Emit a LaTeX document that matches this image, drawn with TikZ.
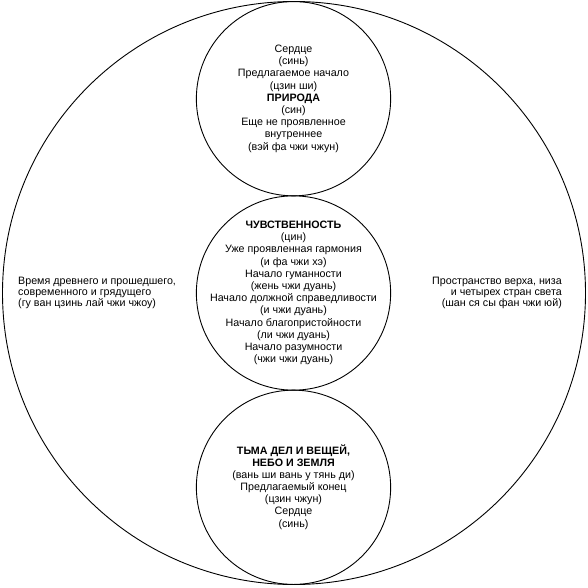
\documentclass[tikz,border=0pt]{standalone}
\usepackage{fontspec}
\setmainfont{Liberation Sans}
\usepackage{tikz}

\begin{document}
\begin{tikzpicture}[x=1pt,y=-1pt,
  ring/.style={circle,draw,line width=0.9pt,inner sep=0pt,minimum size=#1},
  txt/.style={align=center,inner sep=0pt,font=\fontsize{10.7}{12.2}\selectfont}]
\useasboundingbox (0,0) rectangle (587,588);
\node [ring=583pt] (world) at (294,293) {};
\node [ring=194.3pt] (nature) at (293.5,98.7) {};
\node [ring=194.3pt] (feeling) at (293.5,293) {};
\node [ring=194.3pt] (things) at (293.5,487.3) {};

\node [txt] (natureT) at (nature) {Сердце\\(синь)\\Предлагаемое начало\\(цзин ши)\\\textbf{ПРИРОДА}\\(син)\\Еще не проявленное\\внутреннее\\(вэй фа чжи чжун)};
\node [txt] (feelingT) at (feeling) {\textbf{ЧУВСТВЕННОСТЬ}\\(цин)\\Уже проявленная гармония\\(и фа чжи хэ)\\Начало гуманности\\(жень чжи дуань)\\Начало должной справедливости\\(и чжи дуань)\\Начало благопристойности\\(ли чжи дуань)\\Начало разумности\\(чжи чжи дуань)};
\node [txt] (thingsT) at (things) {\textbf{ТЬМА ДЕЛ И ВЕЩЕЙ,}\\[-1pt]\textbf{НЕБО И ЗЕМЛЯ}\\(вань ши вань у тянь ди)\\Предлагаемый конец\\(цзин чжун)\\Сердце\\(синь)};
\node [txt,align=left,anchor=west,font=\fontsize{10.7}{11}\selectfont] (timeT) at (18,292.5) {Время древнего и прошедшего,\\современного и грядущего\\(гу ван цзинь лай чжи чжоу)};
\node [txt,align=right,anchor=east,font=\fontsize{10.7}{11}\selectfont] (spaceT) at (562,292.5) {Пространство верха, низа\\и четырех стран света\\(шан ся сы фан чжи юй)};
\end{tikzpicture}
\end{document}
